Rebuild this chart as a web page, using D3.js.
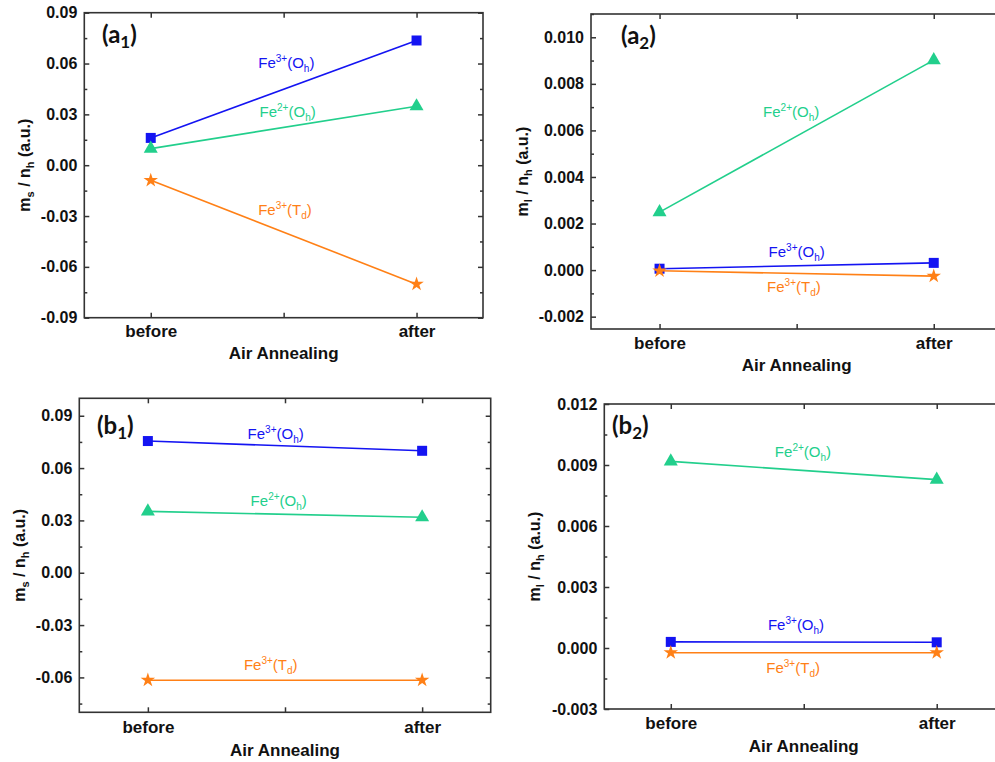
<!DOCTYPE html>
<html>
<head>
<meta charset="utf-8">
<script src="https://cdn.jsdelivr.net/npm/d3@7"></script>
<style>
  html, body { margin: 0; padding: 0; background: #fff; }
  svg { display: block; }
</style>
</head>
<body>
<svg id="chart" width="995" height="762"></svg>
<script>
// ---------- data ----------
const categories = ["before", "after"];
const seriesNames = ["Fe3+(Oh)", "Fe2+(Oh)", "Fe3+(Td)"];

// panel (a1): m_s / n_h
const a1_Fe3Oh = [0.0161, 0.0736];
const a1_Fe2Oh = [0.0098, 0.0348];
const a1_Fe3Td = [-0.0089, -0.0702];
const a1_ticks = [-0.09, -0.06, -0.03, 0.00, 0.03, 0.06, 0.09];

// panel (a2): m_l / n_h
const a2_Fe3Oh = [0.00006, 0.00031];
const a2_Fe2Oh = [0.00249, 0.00902];
const a2_Fe3Td = [-0.00003, -0.00026];
const a2_ticks = [-0.002, 0.000, 0.002, 0.004, 0.006, 0.008, 0.010];

// panel (b1): m_s / n_h
const b1_Fe3Oh = [0.0755, 0.0699];
const b1_Fe2Oh = [0.0352, 0.0318];
const b1_Fe3Td = [-0.0616, -0.0616];
const b1_ticks = [-0.06, -0.03, 0.00, 0.03, 0.06, 0.09];

// panel (b2): m_l / n_h
const b2_Fe3Oh = [0.00030, 0.00028];
const b2_Fe2Oh = [0.00918, 0.00828];
const b2_Fe3Td = [-0.00023, -0.00023];
const b2_ticks = [-0.003, 0.000, 0.003, 0.006, 0.009, 0.012];

// ---------- styling ----------
const colors = { "Fe3+(Oh)": "#1414f2", "Fe2+(Oh)": "#22cf8c", "Fe3+(Td)": "#ff8016" };
const symbols = { "Fe3+(Oh)": d3.symbolSquare, "Fe2+(Oh)": d3.symbolTriangle, "Fe3+(Td)": d3.symbolStar };
const symSize = { "Fe3+(Oh)": 100, "Fe2+(Oh)": 85, "Fe3+(Td)": 65 };

const panels = [
  { id: "a", sub: "1", box: [84.3, 12.7, 483, 317.7], ydom: [-0.09, 0.09], ticks: a1_ticks, dec: 2, minorStep: 0.015,
    ytitle: ["m", "s"], ytx: 30, xtb: 337, xtitleB: 359, lab: [102, 43],
    series: [a1_Fe3Oh, a1_Fe2Oh, a1_Fe3Td],
    notes: [[1.51, 0.0574], [1.515, 0.0284], [1.505, -0.0294]] },
  { id: "a", sub: "2", box: [591, 14, 1002.3, 329], ydom: [-0.00253, 0.0110], ticks: a2_ticks, dec: 3, minorStep: 0.001,
    ytitle: ["m", "l"], ytx: 528, xtb: 349, xtitleB: 371, lab: [621, 44],
    series: [a2_Fe3Oh, a2_Fe2Oh, a2_Fe3Td],
    notes: [[1.50, 0.00056], [1.48, 0.00657], [1.49, -0.00094]] },
  { id: "b", sub: "1", box: [79.3, 398.3, 490.7, 712.3], ydom: [-0.08, 0.10], ticks: b1_ticks, dec: 2, minorStep: 0.015,
    ytitle: ["m", "s"], ytx: 25, xtb: 733, xtitleB: 756, lab: [97, 434],
    series: [b1_Fe3Oh, b1_Fe2Oh, b1_Fe3Td],
    notes: [[1.466, 0.0768], [1.477, 0.0385], [1.448, -0.0559]] },
  { id: "b", sub: "2", box: [604.3, 404, 1003.2, 709], ydom: [-0.003, 0.012], ticks: b2_ticks, dec: 3, minorStep: 0.0015,
    ytitle: ["m", "l"], ytx: 540, xtb: 729, xtitleB: 752, lab: [612, 434],
    series: [b2_Fe3Oh, b2_Fe2Oh, b2_Fe3Td],
    notes: [[1.471, 0.00087], [1.497, 0.00938], [1.46, -0.00124]] }
];

const svg = d3.select("#chart");
const axisColor = "#333";
const fontMain = "'Liberation Sans', Arial, sans-serif";

function seriesLabel(g, name, x, y, color) {
  const ion = name.startsWith("Fe3") ? "3+" : "2+";
  const site = name.includes("Td") ? ["T", "d"] : ["O", "h"];
  const t = g.append("text").attr("x", x).attr("y", y).attr("text-anchor", "middle")
    .attr("font-family", fontMain).attr("font-size", 15).attr("fill", color);
  t.append("tspan").text("Fe");
  t.append("tspan").attr("dy", -6).attr("font-size", 10).text(ion);
  t.append("tspan").attr("dy", 6).text("(" + site[0]);
  t.append("tspan").attr("dy", 4).attr("font-size", 10).text(site[1]);
  t.append("tspan").attr("dy", -4).text(")");
}

panels.forEach(p => {
  const [x0, y0, x1, y1] = p.box;
  const g = svg.append("g");
  const x = d3.scaleLinear().domain([0.75, 2.25]).range([x0, x1]);
  const y = d3.scaleLinear().domain(p.ydom).range([y1, y0]);
  const fmt = d => (Math.abs(d) < 1e-12 ? 0 : d).toFixed(p.dec);

  // minor tick values
  const minor = [];
  const nMin = Math.ceil((p.ydom[0] - 1e-9) / p.minorStep), nMax = Math.floor((p.ydom[1] + 1e-9) / p.minorStep);
  for (let k = nMin; k <= nMax; k++) {
    const v = k * p.minorStep;
    if (Math.abs(Math.round(k) % 2) === 1) minor.push(v);
  }

  const styleAxis = sel => {
    sel.select(".domain").remove();
    sel.selectAll(".tick line").attr("stroke", axisColor).attr("stroke-width", 1.5);
  };

  // left axis (labels)
  g.append("g").attr("transform", `translate(${x0},0)`)
    .call(d3.axisLeft(y).tickValues(p.ticks).tickSize(-5).tickPadding(7).tickFormat(fmt))
    .call(styleAxis)
    .call(s => s.selectAll("text").attr("font-family", fontMain).attr("font-weight", "bold")
      .attr("font-size", 16).attr("fill", "#111"));
  g.append("g").attr("transform", `translate(${x0},0)`)
    .call(d3.axisLeft(y).tickValues(minor).tickSize(-3).tickFormat(""))
    .call(styleAxis);
  // right axis (mirror)
  g.append("g").attr("transform", `translate(${x1},0)`)
    .call(d3.axisRight(y).tickValues(p.ticks).tickSize(-5).tickFormat(""))
    .call(styleAxis);
  g.append("g").attr("transform", `translate(${x1},0)`)
    .call(d3.axisRight(y).tickValues(minor).tickSize(-3).tickFormat(""))
    .call(styleAxis);
  // bottom axis
  g.append("g").attr("transform", `translate(0,${y1})`)
    .call(d3.axisBottom(x).tickValues([1, 1.5, 2]).tickSize(-5).tickPadding(p.xtb - y1 - 12)
      .tickFormat(d => d === 1 ? categories[0] : d === 2 ? categories[1] : ""))
    .call(styleAxis)
    .call(s => s.selectAll("text").attr("font-family", fontMain).attr("font-weight", "bold")
      .attr("font-size", 17).attr("fill", "#111"));
  // top axis
  g.append("g").attr("transform", `translate(0,${y0})`)
    .call(d3.axisTop(x).tickValues([1, 1.5, 2]).tickSize(-5).tickFormat(""))
    .call(styleAxis);

  // frame
  g.append("rect").attr("x", x0).attr("y", y0).attr("width", x1 - x0).attr("height", y1 - y0)
    .attr("fill", "none").attr("stroke", axisColor).attr("stroke-width", 1.6);

  // series
  seriesNames.forEach((name, i) => {
    const vals = p.series[i];
    const pts = vals.map((v, j) => [j + 1, v]);
    g.append("path").datum(pts)
      .attr("d", d3.line().x(d => x(d[0])).y(d => y(d[1])))
      .attr("fill", "none").attr("stroke", colors[name]).attr("stroke-width", 1.6);
    g.selectAll(null).data(pts).enter().append("path")
      .attr("transform", d => `translate(${x(d[0])},${y(d[1])})`)
      .attr("d", d3.symbol().type(symbols[name]).size(symSize[name]))
      .attr("fill", colors[name]);
    const n = p.notes[i];
    seriesLabel(g, name, x(n[0]), y(n[1]), colors[name]);
  });

  // x title
  g.append("text").attr("x", (x0 + x1) / 2).attr("y", p.xtitleB).attr("text-anchor", "middle")
    .attr("font-family", fontMain).attr("font-weight", "bold").attr("font-size", 17).attr("fill", "#111")
    .text("Air Annealing");

  // y title
  const yt = g.append("text")
    .attr("transform", `translate(${p.ytx},${(y0 + y1) / 2}) rotate(-90)`)
    .attr("text-anchor", "middle").attr("font-family", fontMain).attr("font-weight", "bold")
    .attr("font-size", 16).attr("fill", "#111");
  yt.append("tspan").text(p.ytitle[0]);
  yt.append("tspan").attr("dy", 4).attr("font-size", 11).text(p.ytitle[1]);
  yt.append("tspan").attr("dy", -4).text(" / n");
  yt.append("tspan").attr("dy", 4).attr("font-size", 11).text("h");
  yt.append("tspan").attr("dy", -4).text(" (a.u.)");

  // panel label
  const pl = g.append("text").attr("x", p.lab[0]).attr("y", p.lab[1])
    .attr("font-family", "Lato, 'Open Sans', sans-serif").attr("font-weight", "bold")
    .attr("font-size", 24).attr("fill", "#111");
  pl.append("tspan").text("(" + p.id);
  pl.append("tspan").attr("dy", 5).attr("font-size", 17).text(p.sub);
  pl.append("tspan").attr("dy", -5).text(")");
});
</script>
</body>
</html>
